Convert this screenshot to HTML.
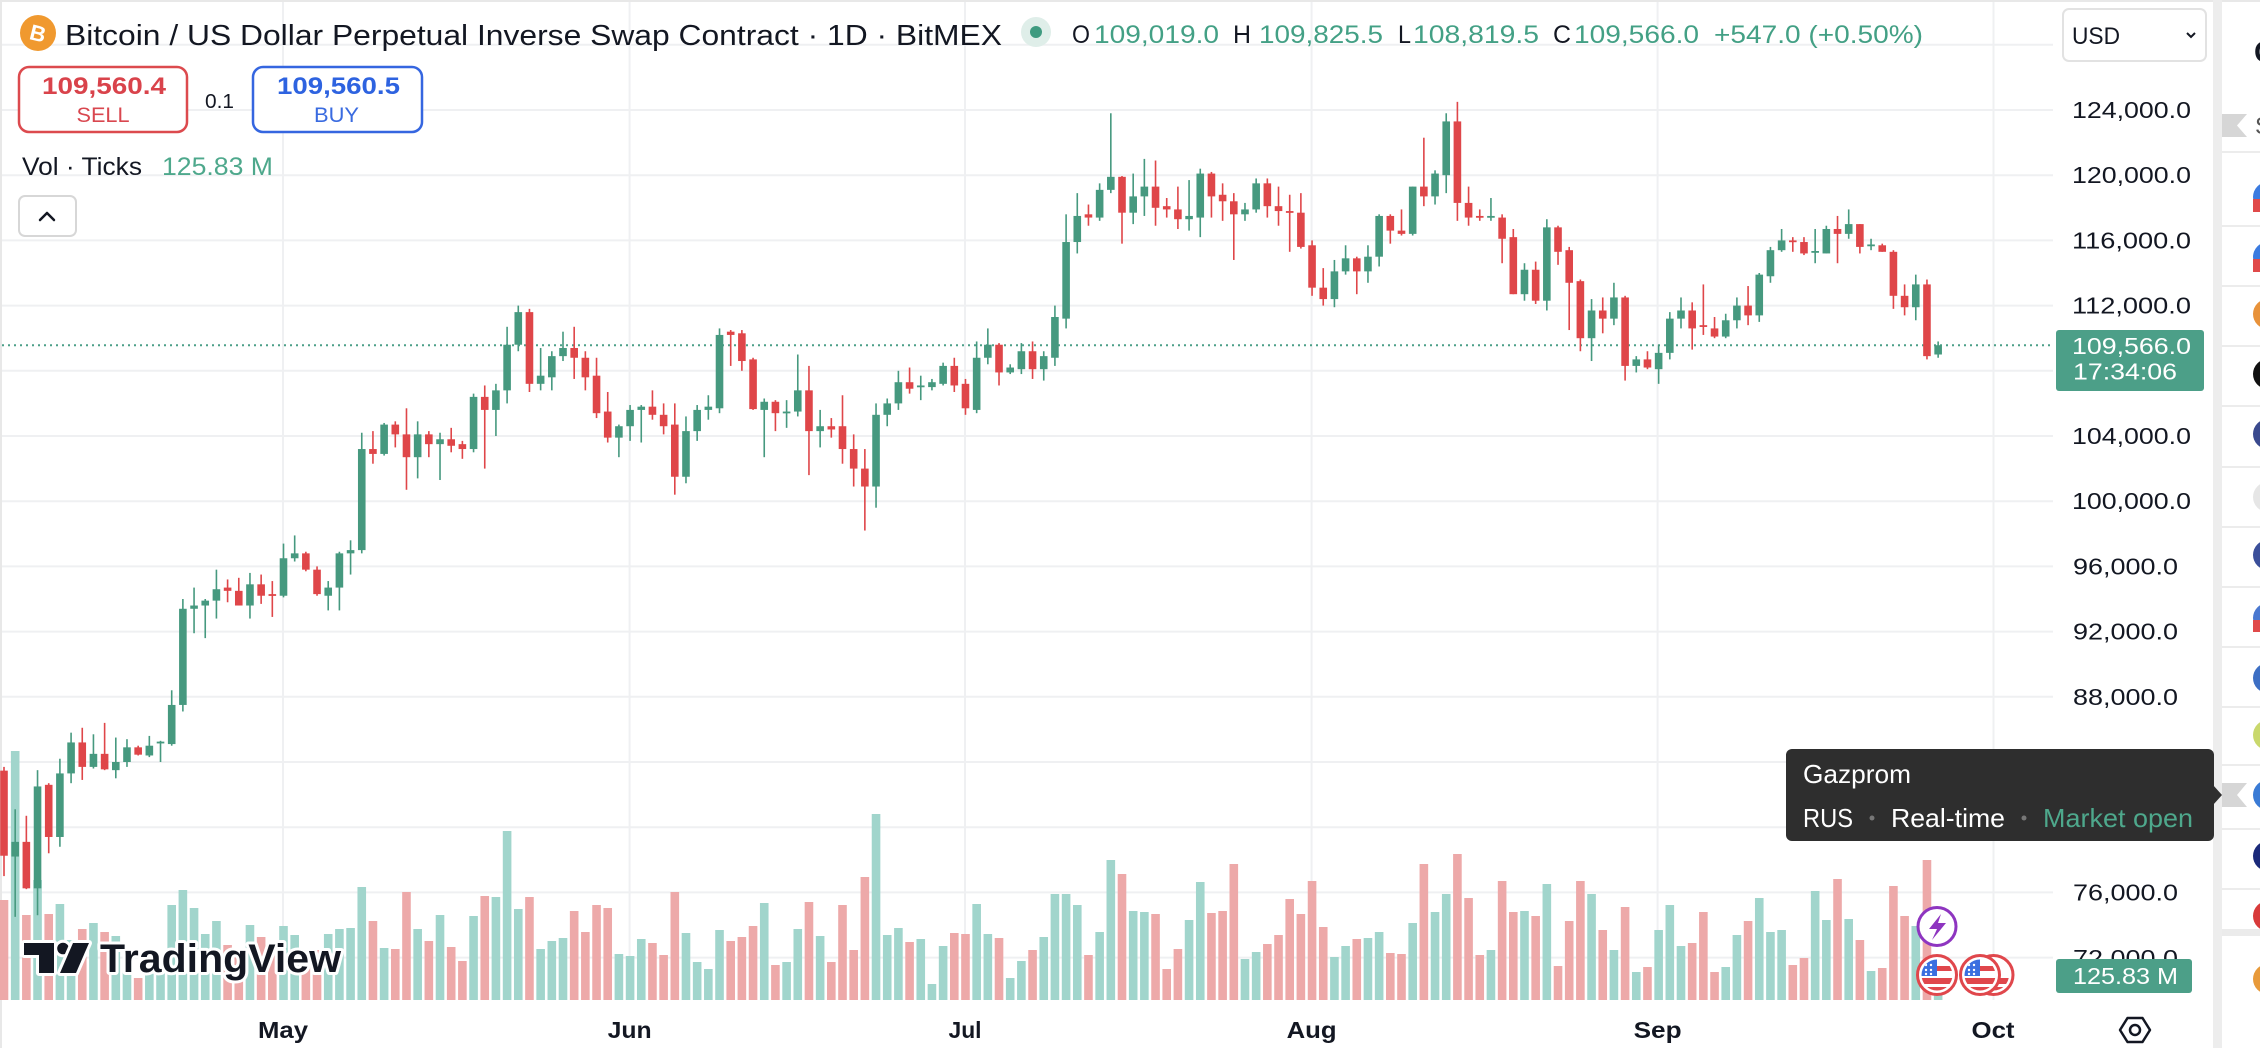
<!DOCTYPE html>
<html><head><meta charset="utf-8">
<style>
html,body{margin:0;padding:0;background:#fff;overflow:hidden;}
svg{display:block;font-family:"Liberation Sans",Arial,sans-serif;}
</style></head>
<body>
<svg width="2260" height="1048" viewBox="0 0 2260 1048" xmlns="http://www.w3.org/2000/svg">
<defs>
<clipPath id="fc"><circle cx="0" cy="0" r="15.5"/></clipPath>
</defs>
<rect width="2260" height="1048" fill="#fff"/>
<!-- borders / separator -->
<rect x="0" y="0" width="2260" height="2" fill="#e8e8e8"/>
<rect x="0" y="0" width="2" height="1048" fill="#e8e8e8"/>
<rect x="2213" y="0" width="9" height="1048" fill="#ededed"/>

<!-- grid -->
<g stroke="#eff0f2" stroke-width="2">
<line x1="2" y1="44.8" x2="2053" y2="44.8"/>
<line x1="2" y1="110" x2="2053" y2="110"/>
<line x1="2" y1="175.2" x2="2053" y2="175.2"/>
<line x1="2" y1="240.4" x2="2053" y2="240.4"/>
<line x1="2" y1="305.6" x2="2053" y2="305.6"/>
<line x1="2" y1="370.8" x2="2053" y2="370.8"/>
<line x1="2" y1="436" x2="2053" y2="436"/>
<line x1="2" y1="501.2" x2="2053" y2="501.2"/>
<line x1="2" y1="566.4" x2="2053" y2="566.4"/>
<line x1="2" y1="631.6" x2="2053" y2="631.6"/>
<line x1="2" y1="696.8" x2="2053" y2="696.8"/>
<line x1="2" y1="762" x2="2053" y2="762"/>
<line x1="2" y1="827.2" x2="2053" y2="827.2"/>
<line x1="2" y1="892.4" x2="2053" y2="892.4"/>
<line x1="2" y1="957.6" x2="2053" y2="957.6"/>
<line x1="283" y1="2" x2="283" y2="1000"/>
<line x1="629.6" y1="2" x2="629.6" y2="1000"/>
<line x1="965" y1="2" x2="965" y2="1000"/>
<line x1="1311.6" y1="2" x2="1311.6" y2="1000"/>
<line x1="1657.6" y1="2" x2="1657.6" y2="1000"/>
<line x1="1993.5" y1="2" x2="1993.5" y2="1000"/>
</g>

<!-- current price dotted line -->
<line x1="2" y1="345.3" x2="2053" y2="345.3" stroke="#4c9f88" stroke-width="2" stroke-dasharray="2 4"/>

<g id="vol"></g>
<g id="cdl"></g>

<!-- TradingView logo -->
<g fill="#131722" stroke="#fff" stroke-width="6" paint-order="stroke" stroke-linejoin="round">
<path d="M24 943 H54 V973 H39 V955 H24 Z"/>
<circle cx="63" cy="948.5" r="5.8"/>
<path d="M73 943 H89 L76 973 H60 Z"/>
<text x="100" y="972" font-size="40" font-weight="bold" textLength="241" lengthAdjust="spacingAndGlyphs">TradingView</text>
</g>

<!-- event icons -->
<g transform="translate(1993.5,975)">
<circle r="19.5" fill="#fff" stroke="#e0474c" stroke-width="3"/>
<g clip-path="url(#fc)"><rect x="-16" y="-16" width="32" height="32" fill="#fff"/><rect x="-16" y="3" width="32" height="6" fill="#e0474c"/><rect x="-16" y="12" width="32" height="5" fill="#e0474c"/></g>
</g>
<g transform="translate(1937,975)">
<circle r="19.5" fill="#fff" stroke="#e0474c" stroke-width="3"/>
<g clip-path="url(#fc)">
<rect x="-16" y="-16" width="32" height="32" fill="#fff"/>
<rect x="0" y="-9" width="16" height="5" fill="#e0474c"/>
<rect x="-16" y="3" width="32" height="6" fill="#e0474c"/>
<rect x="-16" y="12" width="32" height="5" fill="#e0474c"/>
<rect x="-16" y="-16" width="16" height="17" fill="#3b6fe0"/>
<g fill="#fff"><circle cx="-11" cy="-10" r="1.2"/><circle cx="-6" cy="-10" r="1.2"/><circle cx="-11" cy="-5" r="1.2"/><circle cx="-6" cy="-5" r="1.2"/><circle cx="-11" cy="-1" r="1.2"/><circle cx="-6" cy="-1" r="1.2"/></g>
</g>
</g>
<g transform="translate(1980,975)">
<circle r="19.5" fill="#fff" stroke="#e0474c" stroke-width="3"/>
<g clip-path="url(#fc)">
<rect x="-16" y="-16" width="32" height="32" fill="#fff"/>
<rect x="0" y="-9" width="16" height="5" fill="#e0474c"/>
<rect x="-16" y="3" width="32" height="6" fill="#e0474c"/>
<rect x="-16" y="12" width="32" height="5" fill="#e0474c"/>
<rect x="-16" y="-16" width="16" height="17" fill="#3b6fe0"/>
<g fill="#fff"><circle cx="-11" cy="-10" r="1.2"/><circle cx="-6" cy="-10" r="1.2"/><circle cx="-11" cy="-5" r="1.2"/><circle cx="-6" cy="-5" r="1.2"/><circle cx="-11" cy="-1" r="1.2"/><circle cx="-6" cy="-1" r="1.2"/></g>
</g>
</g>
<g>
<circle cx="1937" cy="926.5" r="19" fill="#fff" stroke="#8e35c0" stroke-width="3"/>
<path d="M1941 914 L1929 929 L1937 929 L1932 940 L1946 923 L1938 923 Z" fill="#8e35c0"/>
</g>

<!-- legend -->
<circle cx="38" cy="33" r="18" fill="#f0992f"/>
<text x="38" y="41" font-size="22" font-weight="bold" fill="#fff" text-anchor="middle" transform="rotate(14 38 33)">B</text>
<text x="65" y="45" font-size="29" fill="#131722" textLength="937" lengthAdjust="spacingAndGlyphs">Bitcoin / US Dollar Perpetual Inverse Swap Contract · 1D · BitMEX</text>
<circle cx="1036" cy="32" r="15" fill="#dfeee9"/>
<circle cx="1036" cy="32" r="6" fill="#3f9b80"/>
<g font-size="25">
<text x="1072" y="43" fill="#131722" textLength="18" lengthAdjust="spacingAndGlyphs">O</text>
<text x="1094" y="43" fill="#43a085" textLength="125" lengthAdjust="spacingAndGlyphs">109,019.0</text>
<text x="1233" y="43" fill="#131722" textLength="18" lengthAdjust="spacingAndGlyphs">H</text>
<text x="1259" y="43" fill="#43a085" textLength="124" lengthAdjust="spacingAndGlyphs">109,825.5</text>
<text x="1398" y="43" fill="#131722" textLength="13" lengthAdjust="spacingAndGlyphs">L</text>
<text x="1413" y="43" fill="#43a085" textLength="126" lengthAdjust="spacingAndGlyphs">108,819.5</text>
<text x="1553" y="43" fill="#131722" textLength="18" lengthAdjust="spacingAndGlyphs">C</text>
<text x="1574" y="43" fill="#43a085" textLength="125" lengthAdjust="spacingAndGlyphs">109,566.0</text>
<text x="1714" y="43" fill="#43a085" textLength="209" lengthAdjust="spacingAndGlyphs">+547.0 (+0.50%)</text>
</g>

<rect x="19" y="67" width="168" height="65" rx="10" fill="#fff" stroke="#dc4a4e" stroke-width="2.5"/>
<text x="104" y="94" font-size="24" font-weight="bold" fill="#d9434b" text-anchor="middle" textLength="124" lengthAdjust="spacingAndGlyphs">109,560.4</text>
<text x="103" y="122" font-size="21" fill="#d9474f" text-anchor="middle" textLength="53" lengthAdjust="spacingAndGlyphs">SELL</text>
<text x="205" y="108" font-size="20" fill="#131722" textLength="29" lengthAdjust="spacingAndGlyphs">0.1</text>
<rect x="253" y="67" width="169" height="65" rx="10" fill="#fff" stroke="#3566e0" stroke-width="2.5"/>
<text x="338.5" y="94" font-size="24" font-weight="bold" fill="#2e63e0" text-anchor="middle" textLength="123" lengthAdjust="spacingAndGlyphs">109,560.5</text>
<text x="336.5" y="122" font-size="21" fill="#3a6be0" text-anchor="middle" textLength="45" lengthAdjust="spacingAndGlyphs">BUY</text>

<text x="22" y="175" font-size="25" fill="#131722" textLength="120" lengthAdjust="spacingAndGlyphs">Vol · Ticks</text>
<text x="162" y="175" font-size="25" fill="#4ea88c" textLength="111" lengthAdjust="spacingAndGlyphs">125.83 M</text>
<rect x="19" y="196" width="57" height="40" rx="6" fill="#fff" stroke="#d7d7d7" stroke-width="2"/>
<polyline points="40,220 47,213 54,220" fill="none" stroke="#131722" stroke-width="2.5" stroke-linecap="round" stroke-linejoin="round"/>

<!-- price axis -->
<rect x="2063" y="9" width="143" height="52" rx="6" fill="#fff" stroke="#e2e2e2" stroke-width="2"/>
<text x="2072" y="44" font-size="24" fill="#131722" textLength="48" lengthAdjust="spacingAndGlyphs">USD</text>
<polyline points="2187,33 2191,37 2195,33" fill="none" stroke="#131722" stroke-width="2"/>
<g font-size="23" fill="#131722">
<text x="2072" y="118" textLength="119" lengthAdjust="spacingAndGlyphs">124,000.0</text>
<text x="2072" y="183" textLength="119" lengthAdjust="spacingAndGlyphs">120,000.0</text>
<text x="2072" y="248.5" textLength="119" lengthAdjust="spacingAndGlyphs">116,000.0</text>
<text x="2072" y="313.5" textLength="119" lengthAdjust="spacingAndGlyphs">112,000.0</text>
<text x="2072" y="444" textLength="119" lengthAdjust="spacingAndGlyphs">104,000.0</text>
<text x="2072" y="509" textLength="119" lengthAdjust="spacingAndGlyphs">100,000.0</text>
<text x="2073" y="574.5" textLength="105" lengthAdjust="spacingAndGlyphs">96,000.0</text>
<text x="2073" y="639.5" textLength="105" lengthAdjust="spacingAndGlyphs">92,000.0</text>
<text x="2073" y="705" textLength="105" lengthAdjust="spacingAndGlyphs">88,000.0</text>
<text x="2073" y="900.5" textLength="105" lengthAdjust="spacingAndGlyphs">76,000.0</text>
<text x="2073" y="966" textLength="105" lengthAdjust="spacingAndGlyphs">72,000.0</text>
</g>
<rect x="2056" y="330" width="148" height="61" rx="3" fill="#4c9f88"/>
<text x="2072" y="354" font-size="23" fill="#fff" textLength="119" lengthAdjust="spacingAndGlyphs">109,566.0</text>
<text x="2073" y="379.5" font-size="23" fill="#fff" textLength="104" lengthAdjust="spacingAndGlyphs">17:34:06</text>
<rect x="2056" y="959" width="136" height="34" rx="3" fill="#4c9f88"/>
<text x="2073" y="984" font-size="23" fill="#fff" textLength="105" lengthAdjust="spacingAndGlyphs">125.83 M</text>

<!-- time axis -->
<g font-size="23" font-weight="bold" fill="#131722" text-anchor="middle">
<text x="283" y="1038" textLength="50" lengthAdjust="spacingAndGlyphs">May</text>
<text x="629.6" y="1038" textLength="44" lengthAdjust="spacingAndGlyphs">Jun</text>
<text x="965" y="1038" textLength="33" lengthAdjust="spacingAndGlyphs">Jul</text>
<text x="1311.6" y="1038" textLength="50" lengthAdjust="spacingAndGlyphs">Aug</text>
<text x="1657.6" y="1038" textLength="48" lengthAdjust="spacingAndGlyphs">Sep</text>
<text x="1993" y="1038" textLength="43" lengthAdjust="spacingAndGlyphs">Oct</text>
</g>
<polygon points="2120,1030 2127.5,1018 2142.5,1018 2150,1030 2142.5,1042 2127.5,1042" fill="none" stroke="#131722" stroke-width="2.5" stroke-linejoin="round"/>
<circle cx="2135" cy="1030" r="5" fill="none" stroke="#131722" stroke-width="2.5"/>

<!-- tooltip -->
<rect x="1786" y="749" width="428" height="92" rx="6" fill="#2e2e2e"/>
<polygon points="2213,785 2222,795 2213,805" fill="#2e2e2e"/>
<text x="1803" y="783" font-size="26" fill="#fff" textLength="108" lengthAdjust="spacingAndGlyphs">Gazprom</text>
<text x="1803" y="827" font-size="26" fill="#fff" textLength="50" lengthAdjust="spacingAndGlyphs">RUS</text>
<circle cx="1872" cy="818" r="2.5" fill="#777"/>
<text x="1891" y="827" font-size="26" fill="#fff" textLength="114" lengthAdjust="spacingAndGlyphs">Real-time</text>
<circle cx="2024" cy="818" r="2.5" fill="#777"/>
<text x="2043" y="827" font-size="26" fill="#4ea88c" textLength="150" lengthAdjust="spacingAndGlyphs">Market open</text>

<!-- right sidebar -->
<rect x="2222" y="3" width="40" height="1045" rx="8" fill="#fff"/>
<text x="2254" y="62" font-size="30" font-weight="bold" fill="#131722">C</text>
<polygon points="2222,114 2247,114 2237,125.5 2247,137 2222,137" fill="#d6d6d6"/>
<text x="2255" y="134" font-size="24" fill="#555">S</text>
<g stroke="#e6e6e6" stroke-width="1.5">
<line x1="2222" y1="152" x2="2260" y2="152"/>
<line x1="2222" y1="226" x2="2260" y2="226"/>
<line x1="2222" y1="286" x2="2260" y2="286"/>
<line x1="2222" y1="346" x2="2260" y2="346"/>
<line x1="2222" y1="406" x2="2260" y2="406"/>
<line x1="2222" y1="467" x2="2260" y2="467"/>
<line x1="2222" y1="527" x2="2260" y2="527"/>
<line x1="2222" y1="587" x2="2260" y2="587"/>
<line x1="2222" y1="647" x2="2260" y2="647"/>
<line x1="2222" y1="707" x2="2260" y2="707"/>
<line x1="2222" y1="765" x2="2260" y2="765"/>
<line x1="2222" y1="829" x2="2260" y2="829"/>
<line x1="2222" y1="889" x2="2260" y2="889"/>
</g>
<rect x="2222" y="929" width="38" height="7" fill="#ebebeb"/>
<polygon points="2222,783 2247,783 2237,795 2247,807 2222,807" fill="#d6d6d6"/>
<g>
<circle cx="2268" cy="197" r="15" fill="#3b7be0"/><rect x="2253" y="199" width="15" height="13" fill="#e04a4a"/>
<circle cx="2268" cy="257" r="15" fill="#3b7be0"/><rect x="2253" y="259" width="15" height="13" fill="#e04a4a"/>
<circle cx="2268" cy="314" r="15" fill="#e8923a"/>
<circle cx="2268" cy="374" r="15" fill="#111"/>
<circle cx="2268" cy="434" r="15" fill="#3a4a8e"/>
<circle cx="2268" cy="497" r="15" fill="#e6e6e6"/>
<circle cx="2268" cy="555" r="15" fill="#3b4f9a"/>
<circle cx="2268" cy="618" r="15" fill="#4a78d0"/><rect x="2253" y="620" width="15" height="12" fill="#e04a4a"/>
<circle cx="2268" cy="678" r="15" fill="#3d6fc4"/>
<circle cx="2268" cy="735" r="15" fill="#c9d86c"/>
<circle cx="2268" cy="795" r="15" fill="#3a7bd5"/>
<circle cx="2268" cy="856" r="15" fill="#1b2a7a"/>
<circle cx="2268" cy="916" r="15" fill="#d83a3a"/>
<circle cx="2268" cy="979" r="15" fill="#e89a3a"/>
</g>
</svg>
<script>
(function(){
var D=[[83.47,83.7,77.0,78.25],[78.2,81.1,74.5,79.1],[79.1,80.7,76.2,76.25],[76.25,83.5,74.6,82.5],[82.6,82.7,78.4,79.4],[79.4,84.2,78.8,83.3],[83.3,85.8,82.7,85.2],[85.2,86.1,82.9,83.7],[83.7,85.7,83.6,84.5],[84.5,86.4,83.5,83.55],
[83.5,85.5,83.0,84.0],[84.0,85.4,83.7,84.9],[84.9,85.0,84.4,84.45],[84.4,85.6,84.3,85.0],[85.15,85.3,84.0,85.25],[85.1,88.4,85.0,87.5],[87.5,94.0,87.1,93.4],[93.4,94.7,91.9,93.6],[93.6,94.0,91.6,93.9],[93.9,95.8,92.8,94.6],
[94.7,95.2,93.8,94.5],[94.5,95.3,93.6,93.6],[93.6,95.6,92.8,94.9],[94.9,95.5,93.7,94.2],[94.3,95.1,92.9,94.2],[94.2,97.4,94.1,96.5],[96.5,97.9,96.3,96.8],[96.8,96.9,95.7,95.8],[95.8,96.0,94.2,94.3],[94.2,95.1,93.3,94.7],
[94.7,96.9,93.3,96.8],[96.8,97.6,95.5,97.0],[97.0,104.2,96.8,103.2],[103.2,104.3,102.3,102.9],[102.9,104.8,102.8,104.7],[104.7,104.9,103.3,104.1],[104.1,105.7,100.7,102.7],[102.7,104.9,101.4,104.1],[104.1,104.3,102.7,103.5],[103.5,104.2,101.3,103.8],
[103.8,104.5,103.0,103.4],[103.5,103.7,102.6,103.2],[103.2,106.6,103.0,106.4],[106.4,107.1,102.0,105.6],[105.6,107.2,104.0,106.8],[106.8,110.7,106.0,109.6],[109.6,112.0,109.2,111.6],[111.6,111.8,106.7,107.2],[107.2,109.4,106.8,107.7],[107.6,109.2,106.8,108.9],
[108.9,110.4,108.6,109.4],[109.4,110.7,107.5,108.8],[108.8,109.2,106.8,107.6],[107.7,108.8,105.1,105.4],[105.5,106.7,103.6,103.9],[103.9,104.7,102.7,104.6],[104.6,105.9,103.7,105.6],[105.6,105.9,103.6,105.8],[105.8,106.8,105.0,105.3],[105.3,106.0,104.1,104.6],
[104.7,106.0,100.4,101.5],[101.5,105.2,101.1,104.3],[104.3,105.9,103.7,105.6],[105.6,106.5,105.0,105.8],[105.7,110.6,105.4,110.2],[110.4,110.5,108.3,110.2],[110.3,110.5,108.0,108.6],[108.7,108.8,105.6,105.65],[105.6,106.3,102.7,106.1],[106.1,106.2,104.3,105.4],
[105.4,106.2,104.5,105.5],[105.5,109.0,105.2,106.8],[106.8,108.3,101.6,104.3],[104.3,105.6,103.3,104.6],[104.6,105.1,103.9,104.4],[104.6,106.5,102.3,103.2],[103.2,104.1,100.9,102.0],[102.0,103.2,98.2,100.9],[100.9,106.0,99.6,105.3],[105.3,106.3,104.6,106.0],
[106.0,108.0,105.6,107.3],[107.3,108.2,106.6,106.9],[107.05,107.7,106.2,107.1],[107.0,107.5,106.8,107.3],[107.2,108.5,107.1,108.3],[108.3,108.8,106.7,107.1],[107.2,107.5,105.3,105.7],[105.6,109.8,105.4,108.8],[108.8,110.6,108.4,109.6],[109.6,109.7,107.1,107.9],
[107.9,108.4,107.8,108.2],[108.1,109.7,107.8,109.2],[109.2,109.8,107.5,108.1],[108.1,109.2,107.4,108.9],[108.8,112.0,108.3,111.3],[111.2,117.6,110.6,115.9],[115.9,118.9,115.2,117.5],[117.6,118.2,116.9,117.4],[117.4,119.5,117.2,119.1],[119.1,123.8,118.9,119.9],
[119.9,119.95,115.8,117.7],[117.7,120.1,117.0,118.7],[118.7,121.0,117.5,119.3],[119.3,120.9,116.9,118.0],[118.1,118.6,117.4,117.9],[117.9,119.3,116.7,117.3],[117.3,119.7,116.6,117.5],[117.4,120.4,116.2,120.1],[120.1,120.2,117.4,118.7],[118.8,119.5,117.2,118.4],
[118.4,118.9,114.8,117.6],[117.6,118.3,117.2,117.9],[117.9,119.8,117.7,119.5],[119.5,119.8,117.4,118.1],[118.1,119.3,116.9,117.8],[117.8,118.8,115.3,117.7],[117.7,118.9,115.5,115.6],[115.7,116.0,112.6,113.1],[113.1,114.3,112.0,112.4],[112.4,114.8,111.9,114.1],
[114.1,115.7,113.9,114.9],[114.9,115.0,112.7,114.1],[114.1,115.7,113.4,115.0],[115.0,117.6,114.4,117.5],[117.5,117.6,115.8,116.6],[116.6,117.9,116.3,116.4],[116.4,119.3,116.3,119.3],[119.3,122.3,118.1,118.7],[118.7,120.3,118.2,120.1],[120.0,123.8,118.9,123.3],
[123.3,124.5,117.2,118.3],[118.3,119.3,116.9,117.4],[117.5,117.9,117.2,117.4],[117.4,118.6,117.2,117.5],[117.4,117.6,114.6,116.1],[116.2,116.7,112.7,112.7],[112.7,114.6,112.3,114.2],[114.2,114.7,112.1,112.3],[112.3,117.3,111.7,116.8],[116.8,116.9,114.5,115.3],
[115.4,115.6,110.5,113.4],[113.5,113.6,109.2,110.0],[110.0,112.4,108.6,111.7],[111.7,112.5,110.3,111.2],[111.2,113.4,110.8,112.5],[112.5,112.6,107.4,108.3],[108.3,108.9,107.9,108.7],[108.7,109.2,108.1,108.2],[108.1,109.6,107.2,109.1],[109.1,111.6,108.7,111.2],
[111.2,112.5,110.6,111.7],[111.7,112.2,109.3,110.6],[110.8,113.3,110.2,110.7],[110.6,111.3,110.0,110.1],[110.1,111.5,110.0,111.1],[111.1,112.5,110.6,112.0],[112.0,113.2,110.8,111.4],[111.4,114.0,111.0,113.9],[113.8,115.6,113.4,115.4],[115.4,116.7,115.3,116.0],
[116.0,116.2,115.3,115.9],[115.9,116.2,115.1,115.2],[115.3,116.7,114.6,115.35],[115.2,116.9,115.2,116.7],[116.7,117.5,114.6,116.4],[116.4,117.9,116.1,117.0],[117.0,117.0,115.2,115.6],[115.7,116.1,115.4,115.75],[115.7,115.8,115.3,115.3],[115.3,115.4,111.8,112.6],
[112.6,113.3,111.4,111.9],[111.9,113.9,111.1,113.3],[113.3,113.6,108.7,108.9],[109.0,109.8,108.8,109.57]];
var V=[900,751,915,880,914,904,940,929,923,932,936,955,978,965,955,905,890,908,934,921,945,950,925,937,950,926,935,955,950,934,929,928,887,921,948,949,892,929,941,915,947,961,916,896,897,831,909,897,949,941,938,911,932,905,908,954,956,939,943,955,892,933,962,969,930,941,937,926,903,965,962,929,902,936,962,905,950,877,814,935,928,942,939,984,946,933,934,904,934,938,978,961,950,937,894,894,905,955,932,860,874,911,912,914,969,949,920,882,913,911,864,959,952,944,935,899,914,881,927,957,946,939,938,932,953,954,923,864,912,894,854,898,955,950,881,912,911,916,884,966,921,881,894,930,950,907,972,967,930,905,946,943,912,972,967,935,921,898,932,930,965,958,891,920,879,919,940,971,968,886,916,926,860,976];
var G='#46997f',R='#df4649',VG='#a1d5cc',VR='#eda9a9';
function Y(p){return 110+(124-p)*16.3;}
var vs='',cs='';
for(var i=0;i<D.length;i++){
 var d=D[i],x=4+11.18*i,up=d[3]>=d[0];
 var vt=V[i];
 vs+='<rect x="'+(x-4.3).toFixed(2)+'" y="'+vt+'" width="8.6" height="'+(1000-vt)+'" fill="'+(up?VG:VR)+'"/>';
 var c=up?G:R,yh=Y(d[1]),yl=Y(d[2]),yo=Y(d[0]),yc=Y(d[3]);
 var top=Math.min(yo,yc),h=Math.max(Math.abs(yo-yc),1.8);
 cs+='<rect x="'+(x-0.8).toFixed(2)+'" y="'+yh.toFixed(2)+'" width="1.6" height="'+(yl-yh).toFixed(2)+'" fill="'+c+'"/>';
 cs+='<rect x="'+(x-3.8).toFixed(2)+'" y="'+top.toFixed(2)+'" width="7.6" height="'+h.toFixed(2)+'" fill="'+c+'"/>';
}
document.getElementById('vol').innerHTML=vs;
document.getElementById('cdl').innerHTML=cs;
})();
</script>
</body></html>
